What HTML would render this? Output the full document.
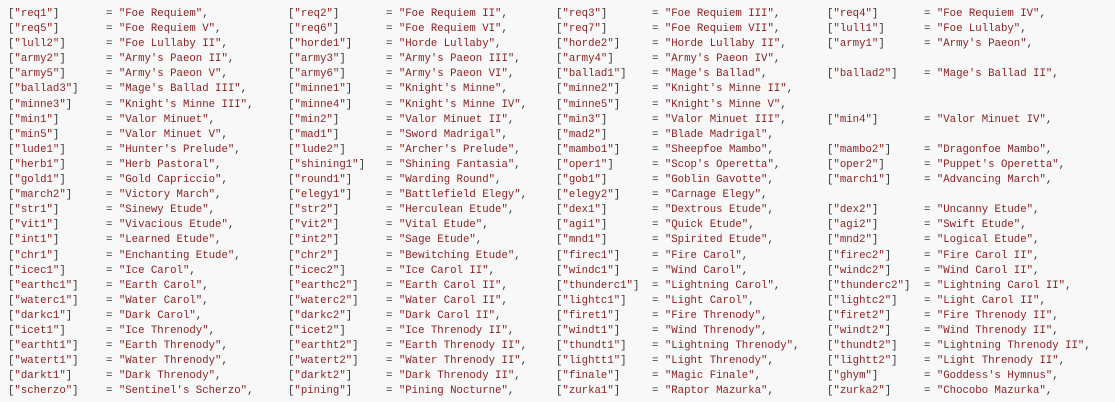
<!DOCTYPE html>
<html><head><meta charset="utf-8"><style>
html,body{margin:0;padding:0;background:#f8f8f8;}
body{width:1115px;height:402px;overflow:hidden;font-family:"Liberation Mono",monospace;font-size:10.7px;color:#8a1e1e;}
#w{position:absolute;top:7px;left:0;}
.r{position:relative;height:15.1px;line-height:15.1px;white-space:pre;}
.r span{position:absolute;top:0;}
i{font-style:normal;color:#333;}
.a1{left:8px}.b1{left:106px}.a2{left:288px}.b2{left:386px}.a3{left:556px}.b3{left:652px}.a4{left:827px}.b4{left:924px}
</style></head><body><div id="w">
<div class="r"><span class="a1"><i>[</i>"req1"<i>]</i></span><span class="b1"><i>= </i>"Foe Requiem"<i>,</i></span><span class="a2"><i>[</i>"req2"<i>]</i></span><span class="b2"><i>= </i>"Foe Requiem II"<i>,</i></span><span class="a3"><i>[</i>"req3"<i>]</i></span><span class="b3"><i>= </i>"Foe Requiem III"<i>,</i></span><span class="a4"><i>[</i>"req4"<i>]</i></span><span class="b4"><i>= </i>"Foe Requiem IV"<i>,</i></span></div>
<div class="r"><span class="a1"><i>[</i>"req5"<i>]</i></span><span class="b1"><i>= </i>"Foe Requiem V"<i>,</i></span><span class="a2"><i>[</i>"req6"<i>]</i></span><span class="b2"><i>= </i>"Foe Requiem VI"<i>,</i></span><span class="a3"><i>[</i>"req7"<i>]</i></span><span class="b3"><i>= </i>"Foe Requiem VII"<i>,</i></span><span class="a4"><i>[</i>"lull1"<i>]</i></span><span class="b4"><i>= </i>"Foe Lullaby"<i>,</i></span></div>
<div class="r"><span class="a1"><i>[</i>"lull2"<i>]</i></span><span class="b1"><i>= </i>"Foe Lullaby II"<i>,</i></span><span class="a2"><i>[</i>"horde1"<i>]</i></span><span class="b2"><i>= </i>"Horde Lullaby"<i>,</i></span><span class="a3"><i>[</i>"horde2"<i>]</i></span><span class="b3"><i>= </i>"Horde Lullaby II"<i>,</i></span><span class="a4"><i>[</i>"army1"<i>]</i></span><span class="b4"><i>= </i>"Army's Paeon"<i>,</i></span></div>
<div class="r"><span class="a1"><i>[</i>"army2"<i>]</i></span><span class="b1"><i>= </i>"Army's Paeon II"<i>,</i></span><span class="a2"><i>[</i>"army3"<i>]</i></span><span class="b2"><i>= </i>"Army's Paeon III"<i>,</i></span><span class="a3"><i>[</i>"army4"<i>]</i></span><span class="b3"><i>= </i>"Army's Paeon IV"<i>,</i></span></div>
<div class="r"><span class="a1"><i>[</i>"army5"<i>]</i></span><span class="b1"><i>= </i>"Army's Paeon V"<i>,</i></span><span class="a2"><i>[</i>"army6"<i>]</i></span><span class="b2"><i>= </i>"Army's Paeon VI"<i>,</i></span><span class="a3"><i>[</i>"ballad1"<i>]</i></span><span class="b3"><i>= </i>"Mage's Ballad"<i>,</i></span><span class="a4"><i>[</i>"ballad2"<i>]</i></span><span class="b4"><i>= </i>"Mage's Ballad II"<i>,</i></span></div>
<div class="r"><span class="a1"><i>[</i>"ballad3"<i>]</i></span><span class="b1"><i>= </i>"Mage's Ballad III"<i>,</i></span><span class="a2"><i>[</i>"minne1"<i>]</i></span><span class="b2"><i>= </i>"Knight's Minne"<i>,</i></span><span class="a3"><i>[</i>"minne2"<i>]</i></span><span class="b3"><i>= </i>"Knight's Minne II"<i>,</i></span></div>
<div class="r"><span class="a1"><i>[</i>"minne3"<i>]</i></span><span class="b1"><i>= </i>"Knight's Minne III"<i>,</i></span><span class="a2"><i>[</i>"minne4"<i>]</i></span><span class="b2"><i>= </i>"Knight's Minne IV"<i>,</i></span><span class="a3"><i>[</i>"minne5"<i>]</i></span><span class="b3"><i>= </i>"Knight's Minne V"<i>,</i></span></div>
<div class="r"><span class="a1"><i>[</i>"min1"<i>]</i></span><span class="b1"><i>= </i>"Valor Minuet"<i>,</i></span><span class="a2"><i>[</i>"min2"<i>]</i></span><span class="b2"><i>= </i>"Valor Minuet II"<i>,</i></span><span class="a3"><i>[</i>"min3"<i>]</i></span><span class="b3"><i>= </i>"Valor Minuet III"<i>,</i></span><span class="a4"><i>[</i>"min4"<i>]</i></span><span class="b4"><i>= </i>"Valor Minuet IV"<i>,</i></span></div>
<div class="r"><span class="a1"><i>[</i>"min5"<i>]</i></span><span class="b1"><i>= </i>"Valor Minuet V"<i>,</i></span><span class="a2"><i>[</i>"mad1"<i>]</i></span><span class="b2"><i>= </i>"Sword Madrigal"<i>,</i></span><span class="a3"><i>[</i>"mad2"<i>]</i></span><span class="b3"><i>= </i>"Blade Madrigal"<i>,</i></span></div>
<div class="r"><span class="a1"><i>[</i>"lude1"<i>]</i></span><span class="b1"><i>= </i>"Hunter's Prelude"<i>,</i></span><span class="a2"><i>[</i>"lude2"<i>]</i></span><span class="b2"><i>= </i>"Archer's Prelude"<i>,</i></span><span class="a3"><i>[</i>"mambo1"<i>]</i></span><span class="b3"><i>= </i>"Sheepfoe Mambo"<i>,</i></span><span class="a4"><i>[</i>"mambo2"<i>]</i></span><span class="b4"><i>= </i>"Dragonfoe Mambo"<i>,</i></span></div>
<div class="r"><span class="a1"><i>[</i>"herb1"<i>]</i></span><span class="b1"><i>= </i>"Herb Pastoral"<i>,</i></span><span class="a2"><i>[</i>"shining1"<i>]</i></span><span class="b2"><i>= </i>"Shining Fantasia"<i>,</i></span><span class="a3"><i>[</i>"oper1"<i>]</i></span><span class="b3"><i>= </i>"Scop's Operetta"<i>,</i></span><span class="a4"><i>[</i>"oper2"<i>]</i></span><span class="b4"><i>= </i>"Puppet's Operetta"<i>,</i></span></div>
<div class="r"><span class="a1"><i>[</i>"gold1"<i>]</i></span><span class="b1"><i>= </i>"Gold Capriccio"<i>,</i></span><span class="a2"><i>[</i>"round1"<i>]</i></span><span class="b2"><i>= </i>"Warding Round"<i>,</i></span><span class="a3"><i>[</i>"gob1"<i>]</i></span><span class="b3"><i>= </i>"Goblin Gavotte"<i>,</i></span><span class="a4"><i>[</i>"march1"<i>]</i></span><span class="b4"><i>= </i>"Advancing March"<i>,</i></span></div>
<div class="r"><span class="a1"><i>[</i>"march2"<i>]</i></span><span class="b1"><i>= </i>"Victory March"<i>,</i></span><span class="a2"><i>[</i>"elegy1"<i>]</i></span><span class="b2"><i>= </i>"Battlefield Elegy"<i>,</i></span><span class="a3"><i>[</i>"elegy2"<i>]</i></span><span class="b3"><i>= </i>"Carnage Elegy"<i>,</i></span></div>
<div class="r"><span class="a1"><i>[</i>"str1"<i>]</i></span><span class="b1"><i>= </i>"Sinewy Etude"<i>,</i></span><span class="a2"><i>[</i>"str2"<i>]</i></span><span class="b2"><i>= </i>"Herculean Etude"<i>,</i></span><span class="a3"><i>[</i>"dex1"<i>]</i></span><span class="b3"><i>= </i>"Dextrous Etude"<i>,</i></span><span class="a4"><i>[</i>"dex2"<i>]</i></span><span class="b4"><i>= </i>"Uncanny Etude"<i>,</i></span></div>
<div class="r"><span class="a1"><i>[</i>"vit1"<i>]</i></span><span class="b1"><i>= </i>"Vivacious Etude"<i>,</i></span><span class="a2"><i>[</i>"vit2"<i>]</i></span><span class="b2"><i>= </i>"Vital Etude"<i>,</i></span><span class="a3"><i>[</i>"agi1"<i>]</i></span><span class="b3"><i>= </i>"Quick Etude"<i>,</i></span><span class="a4"><i>[</i>"agi2"<i>]</i></span><span class="b4"><i>= </i>"Swift Etude"<i>,</i></span></div>
<div class="r"><span class="a1"><i>[</i>"int1"<i>]</i></span><span class="b1"><i>= </i>"Learned Etude"<i>,</i></span><span class="a2"><i>[</i>"int2"<i>]</i></span><span class="b2"><i>= </i>"Sage Etude"<i>,</i></span><span class="a3"><i>[</i>"mnd1"<i>]</i></span><span class="b3"><i>= </i>"Spirited Etude"<i>,</i></span><span class="a4"><i>[</i>"mnd2"<i>]</i></span><span class="b4"><i>= </i>"Logical Etude"<i>,</i></span></div>
<div class="r"><span class="a1"><i>[</i>"chr1"<i>]</i></span><span class="b1"><i>= </i>"Enchanting Etude"<i>,</i></span><span class="a2"><i>[</i>"chr2"<i>]</i></span><span class="b2"><i>= </i>"Bewitching Etude"<i>,</i></span><span class="a3"><i>[</i>"firec1"<i>]</i></span><span class="b3"><i>= </i>"Fire Carol"<i>,</i></span><span class="a4"><i>[</i>"firec2"<i>]</i></span><span class="b4"><i>= </i>"Fire Carol II"<i>,</i></span></div>
<div class="r"><span class="a1"><i>[</i>"icec1"<i>]</i></span><span class="b1"><i>= </i>"Ice Carol"<i>,</i></span><span class="a2"><i>[</i>"icec2"<i>]</i></span><span class="b2"><i>= </i>"Ice Carol II"<i>,</i></span><span class="a3"><i>[</i>"windc1"<i>]</i></span><span class="b3"><i>= </i>"Wind Carol"<i>,</i></span><span class="a4"><i>[</i>"windc2"<i>]</i></span><span class="b4"><i>= </i>"Wind Carol II"<i>,</i></span></div>
<div class="r"><span class="a1"><i>[</i>"earthc1"<i>]</i></span><span class="b1"><i>= </i>"Earth Carol"<i>,</i></span><span class="a2"><i>[</i>"earthc2"<i>]</i></span><span class="b2"><i>= </i>"Earth Carol II"<i>,</i></span><span class="a3"><i>[</i>"thunderc1"<i>]</i></span><span class="b3"><i>= </i>"Lightning Carol"<i>,</i></span><span class="a4"><i>[</i>"thunderc2"<i>]</i></span><span class="b4"><i>= </i>"Lightning Carol II"<i>,</i></span></div>
<div class="r"><span class="a1"><i>[</i>"waterc1"<i>]</i></span><span class="b1"><i>= </i>"Water Carol"<i>,</i></span><span class="a2"><i>[</i>"waterc2"<i>]</i></span><span class="b2"><i>= </i>"Water Carol II"<i>,</i></span><span class="a3"><i>[</i>"lightc1"<i>]</i></span><span class="b3"><i>= </i>"Light Carol"<i>,</i></span><span class="a4"><i>[</i>"lightc2"<i>]</i></span><span class="b4"><i>= </i>"Light Carol II"<i>,</i></span></div>
<div class="r"><span class="a1"><i>[</i>"darkc1"<i>]</i></span><span class="b1"><i>= </i>"Dark Carol"<i>,</i></span><span class="a2"><i>[</i>"darkc2"<i>]</i></span><span class="b2"><i>= </i>"Dark Carol II"<i>,</i></span><span class="a3"><i>[</i>"firet1"<i>]</i></span><span class="b3"><i>= </i>"Fire Threnody"<i>,</i></span><span class="a4"><i>[</i>"firet2"<i>]</i></span><span class="b4"><i>= </i>"Fire Threnody II"<i>,</i></span></div>
<div class="r"><span class="a1"><i>[</i>"icet1"<i>]</i></span><span class="b1"><i>= </i>"Ice Threnody"<i>,</i></span><span class="a2"><i>[</i>"icet2"<i>]</i></span><span class="b2"><i>= </i>"Ice Threnody II"<i>,</i></span><span class="a3"><i>[</i>"windt1"<i>]</i></span><span class="b3"><i>= </i>"Wind Threnody"<i>,</i></span><span class="a4"><i>[</i>"windt2"<i>]</i></span><span class="b4"><i>= </i>"Wind Threnody II"<i>,</i></span></div>
<div class="r"><span class="a1"><i>[</i>"eartht1"<i>]</i></span><span class="b1"><i>= </i>"Earth Threnody"<i>,</i></span><span class="a2"><i>[</i>"eartht2"<i>]</i></span><span class="b2"><i>= </i>"Earth Threnody II"<i>,</i></span><span class="a3"><i>[</i>"thundt1"<i>]</i></span><span class="b3"><i>= </i>"Lightning Threnody"<i>,</i></span><span class="a4"><i>[</i>"thundt2"<i>]</i></span><span class="b4"><i>= </i>"Lightning Threnody II"<i>,</i></span></div>
<div class="r"><span class="a1"><i>[</i>"watert1"<i>]</i></span><span class="b1"><i>= </i>"Water Threnody"<i>,</i></span><span class="a2"><i>[</i>"watert2"<i>]</i></span><span class="b2"><i>= </i>"Water Threnody II"<i>,</i></span><span class="a3"><i>[</i>"lightt1"<i>]</i></span><span class="b3"><i>= </i>"Light Threnody"<i>,</i></span><span class="a4"><i>[</i>"lightt2"<i>]</i></span><span class="b4"><i>= </i>"Light Threnody II"<i>,</i></span></div>
<div class="r"><span class="a1"><i>[</i>"darkt1"<i>]</i></span><span class="b1"><i>= </i>"Dark Threnody"<i>,</i></span><span class="a2"><i>[</i>"darkt2"<i>]</i></span><span class="b2"><i>= </i>"Dark Threnody II"<i>,</i></span><span class="a3"><i>[</i>"finale"<i>]</i></span><span class="b3"><i>= </i>"Magic Finale"<i>,</i></span><span class="a4"><i>[</i>"ghym"<i>]</i></span><span class="b4"><i>= </i>"Goddess's Hymnus"<i>,</i></span></div>
<div class="r"><span class="a1"><i>[</i>"scherzo"<i>]</i></span><span class="b1"><i>= </i>"Sentinel's Scherzo"<i>,</i></span><span class="a2"><i>[</i>"pining"<i>]</i></span><span class="b2"><i>= </i>"Pining Nocturne"<i>,</i></span><span class="a3"><i>[</i>"zurka1"<i>]</i></span><span class="b3"><i>= </i>"Raptor Mazurka"<i>,</i></span><span class="a4"><i>[</i>"zurka2"<i>]</i></span><span class="b4"><i>= </i>"Chocobo Mazurka"<i>,</i></span></div>
</div></body></html>
